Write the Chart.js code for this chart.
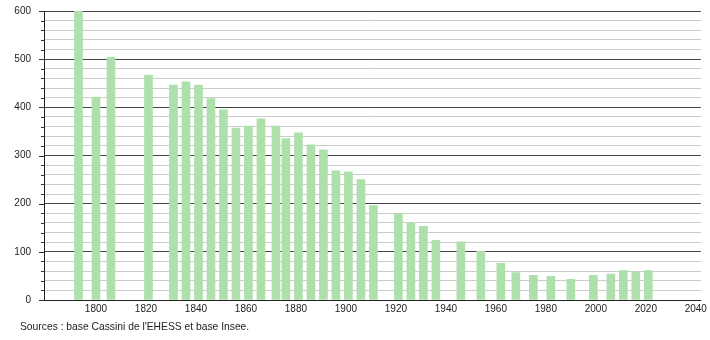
<!DOCTYPE html>
<html>
<head>
<meta charset="utf-8">
<script src="https://cdn.jsdelivr.net/npm/chart.js@4"></script>
<style>
  body { margin: 0; background: #fff; }
  #wrap { position: relative; width: 710px; height: 340px; }
  #source {
    position: absolute; left: 20px; top: 321px;
    font-family: "Liberation Sans", Arial, sans-serif; font-size: 10.3px; color: #222;
  }
</style>
</head>
<body>
<div id="wrap">
  <canvas id="graph" width="710" height="340"></canvas>
  <div id="source">Sources : base Cassini de l'EHESS et base Insee.</div>
</div>
<script>
// années des recensements
const years = [1793, 1800, 1806, 1821, 1831, 1836, 1841, 1846, 1851, 1856,
  1861, 1866, 1872, 1876, 1881, 1886, 1891, 1896, 1901, 1906, 1911,
  1921, 1926, 1931, 1936, 1946, 1954, 1962, 1968, 1975, 1982, 1990,
  1999, 2006, 2011, 2016, 2021];

// population
const population = [600, 421, 504, 467, 446, 453, 446, 418, 395, 357,
  361, 376, 361, 335, 347, 322, 312, 268, 266, 250, 196,
  179, 160, 153, 124, 121, 101, 76, 57, 51, 49, 43,
  51, 54, 61, 58, 61];

const xTicks = [1800, 1820, 1840, 1860, 1880, 1900, 1920, 1940, 1960, 1980, 2000, 2020, 2040];

const points = years.map((y, i) => ({ x: y, y: population[i] }));

// traits de graduation de l'axe y (longs pour les centaines, courts sinon)
const yTickMarks = {
  id: 'yTickMarks',
  afterDraw(chart) {
    const ctx = chart.ctx;
    const yScale = chart.scales.y;
    const left = chart.chartArea.left;
    ctx.save();
    ctx.strokeStyle = '#333';
    ctx.lineWidth = 1;
    for (let v = 0; v <= 600; v += 20) {
      const len = v % 100 === 0 ? 5 : 3;
      const py = Math.round(yScale.getPixelForValue(v)) + 0.5;
      ctx.beginPath();
      ctx.moveTo(left - len, py);
      ctx.lineTo(left, py);
      ctx.stroke();
    }
    ctx.restore();
  }
};

const ctx = document.getElementById('graph').getContext('2d');
const chart = new Chart(ctx, {
  type: 'bar',
  data: {
    datasets: [{
      data: points,
      backgroundColor: '#aee0ab',
      borderWidth: 0,
      barThickness: 8
    }]
  },
  options: {
    responsive: false,
    animation: false,
    layout: { padding: { top: 0, right: 9, left: 0, bottom: 0 } },
    plugins: { legend: { display: false }, tooltip: { enabled: false } },
    scales: {
      x: {
        type: 'linear',
        offset: false,
        min: 1779.2,
        max: 2042,
        afterBuildTicks: s => { s.ticks = xTicks.map(v => ({ value: v })); },
        afterFit: s => { s.height = 40; },
        grid: { display: false, drawTicks: false, offset: false },
        border: { color: '#222', width: 1 },
        ticks: {
          padding: 3,
          maxRotation: 0,
          autoSkip: false,
          color: '#222',
          font: { family: 'Liberation Sans', size: 10 },
          callback: v => String(v)
        }
      },
      y: {
        min: 0,
        max: 600,
        afterFit: s => { s.width = 44; },
        ticks: {
          stepSize: 20,
          autoSkip: false,
          padding: 5,
          color: '#222',
          font: { family: 'Liberation Sans', size: 10 },
          callback: v => (v % 100 === 0 ? String(v) : '')
        },
        grid: {
          tickLength: 8,
          color: c => (c.tick.value % 100 === 0 ? '#444' : '#cccccc'),
          tickColor: 'rgba(0,0,0,0)',
          lineWidth: 1
        },
        border: { color: '#222', width: 1 }
      }
    }
  },
  plugins: [yTickMarks]
});
</script>
</body>
</html>
